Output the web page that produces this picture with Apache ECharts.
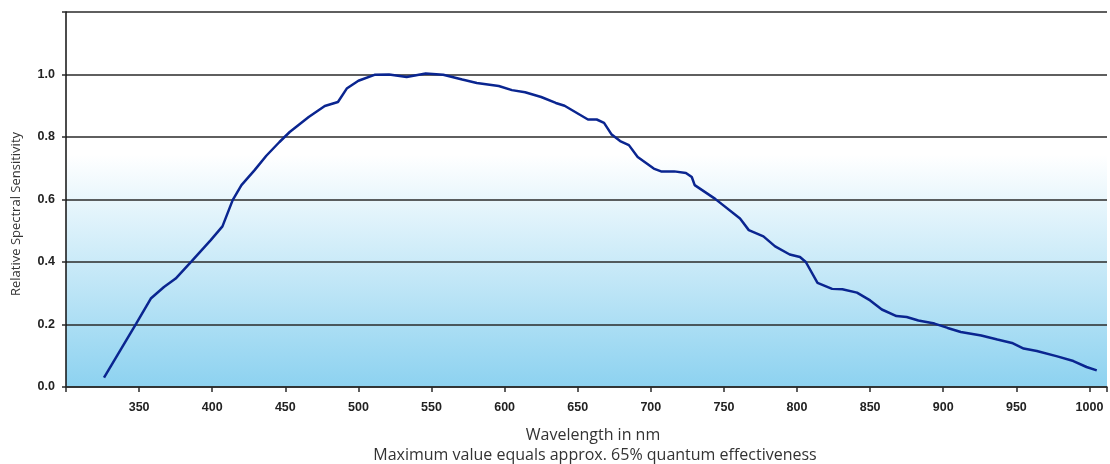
<!DOCTYPE html>
<html lang="en">
<head>
    <meta charset="UTF-8">
    <title>Relative Spectral Sensitivity</title>
    <script type="text/javascript" src="https://cdn.jsdelivr.net/npm/echarts@6/dist/echarts.min.js"></script>
    <style>
        body{
            padding: 0px;
            margin: 0px;
            background-color: #ffffff;
        }
        #chart{
            width:1110px;
            height:464px;
        }
    </style>
</head>
<body>
    <div id="chart"></div>
    <script>
        // wavelength (nm) and relative sensitivity
        var wavelengths = [326, 348, 358, 367, 375, 386, 399, 407, 414, 420, 429, 437, 446, 453, 466, 477, 486, 492, 500, 511, 521, 533, 546, 558, 571, 581, 596, 605, 614, 625, 635, 641, 657, 663, 668, 673, 679, 685, 691, 702, 707, 716, 724, 728, 730, 744, 761, 767, 777, 785, 795, 802, 806, 814, 824, 831, 841, 850, 858, 868, 875, 883, 894, 903, 912, 926, 937, 947, 955, 964, 978, 989, 998, 1005];
        var sensitivity = [0.03, 0.203, 0.283, 0.32, 0.347, 0.403, 0.47, 0.514, 0.598, 0.646, 0.694, 0.74, 0.784, 0.816, 0.864, 0.899, 0.912, 0.955, 0.98, 0.999, 1.0, 0.992, 1.003, 0.999, 0.984, 0.973, 0.963, 0.95, 0.943, 0.928, 0.909, 0.9, 0.856, 0.856, 0.845, 0.809, 0.787, 0.774, 0.736, 0.699, 0.69, 0.69, 0.685, 0.672, 0.646, 0.602, 0.539, 0.502, 0.482, 0.45, 0.424, 0.416, 0.4, 0.333, 0.314, 0.313, 0.302, 0.277, 0.248, 0.227, 0.224, 0.213, 0.203, 0.189, 0.176, 0.165, 0.152, 0.141, 0.123, 0.115, 0.098, 0.083, 0.064, 0.053];

        var xTicks = [350, 400, 450, 500, 550, 600, 650, 700, 750, 800, 850, 900, 950, 1000];
        var yTicks = [0.0, 0.2, 0.4, 0.6, 0.8, 1.0];

        var points = wavelengths.map(function (w, i) { return [w, sensitivity[i]]; });

        var chart = echarts.init(document.getElementById('chart'), null, {renderer: 'canvas'});
        chart.setOption({
            animation: false,
            grid: {
                left: 66, right: 0, top: 12, bottom: 77,
                show: true,
                borderWidth: 0,
                backgroundColor: new echarts.graphic.LinearGradient(0, 0, 0, 1, [
                    {offset: 0, color: '#ffffff'},
                    {offset: 0.38, color: '#ffffff'},
                    {offset: 1, color: '#8dd2f0'}
                ])
            },
            xAxis: {
                type: 'value',
                min: 300,
                max: 1012,
                interval: 50,
                axisLine: {lineStyle: {color: '#2a2a2a', width: 1.5}},
                axisTick: {length: 5, lineStyle: {color: '#2a2a2a', width: 1.5}},
                splitLine: {show: false},
                axisLabel: {
                    margin: 14,
                    color: '#222',
                    fontFamily: 'Liberation Sans',
                    fontWeight: 'bold',
                    fontSize: 12.5,
                    formatter: function (v) {
                        return xTicks.indexOf(v) >= 0 ? String(v) : '';
                    }
                }
            },
            yAxis: {
                type: 'value',
                min: 0,
                max: 1.2,
                interval: 0.2,
                axisLine: {show: true, lineStyle: {color: '#111', width: 1.5}},
                axisTick: {show: true, length: 4, lineStyle: {color: '#2a2a2a', width: 1.5}},
                splitLine: {lineStyle: {color: '#2a2a2a', width: 1.5}},
                axisLabel: {
                    margin: 11,
                    color: '#222',
                    fontFamily: 'Liberation Sans',
                    fontWeight: 'bold',
                    fontSize: 12.5,
                    formatter: function (v) {
                        var r = Math.round(v * 10) / 10;
                        return yTicks.indexOf(r) >= 0 ? r.toFixed(1) : '';
                    }
                }
            },
            graphic: [
                {
                    type: 'text', x: 16, y: 214, rotation: Math.PI / 2,
                    style: {
                        text: 'Relative Spectral Sensitivity', fill: '#333',
                        font: '13px "Open Sans"', align: 'center', verticalAlign: 'middle'
                    }
                },
                {
                    type: 'text', x: 593, y: 435,
                    style: {
                        text: 'Wavelength in nm', fill: '#333',
                        font: '16px "Open Sans"', align: 'center', verticalAlign: 'middle'
                    }
                },
                {
                    type: 'text', x: 595, y: 455,
                    style: {
                        text: 'Maximum value equals approx. 65% quantum effectiveness', fill: '#333',
                        font: '16px "Open Sans"', align: 'center', verticalAlign: 'middle'
                    }
                }
            ],
            series: [{
                type: 'line',
                data: points,
                showSymbol: false,
                lineStyle: {color: '#0a2590', width: 2.5},
                z: 5
            }]
        });
    </script>
</body>
</html>
